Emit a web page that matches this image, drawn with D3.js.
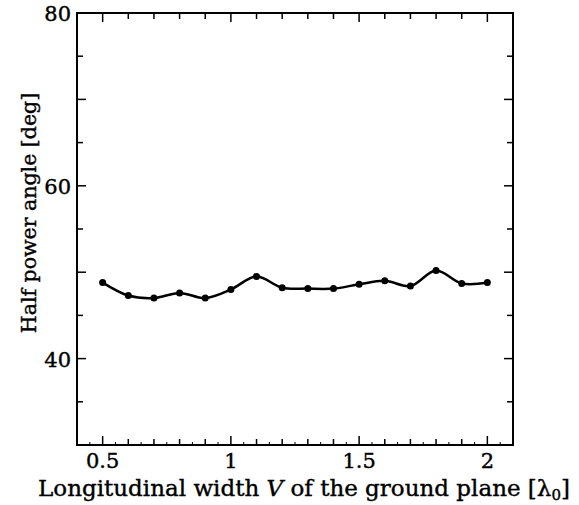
<!DOCTYPE html>
<html><head><meta charset="utf-8">
<script src="https://cdn.jsdelivr.net/npm/d3@7"></script>
<style>body{margin:0;background:#fff}svg{display:block}text{font-family:"DejaVu Serif",serif;fill:#000;stroke:#000;stroke-width:0.4}</style>
</head><body><svg id="c" width="579" height="505"></svg>
<script>
const widths = [0.5,0.6,0.7,0.8,0.9,1.0,1.1,1.2,1.3,1.4,1.5,1.6,1.7,1.8,1.9,2.0];
const angles = [48.8,47.3,47.0,47.6,47.0,48.0,49.5,48.2,48.1,48.1,48.6,49.0,48.4,50.2,48.7,48.8];
const xTickLabels = [0.5,1,1.5,2];
const yTickLabels = [40,60,80];

const svg = d3.select("#c");
const x = d3.scaleLinear().domain([0.4,2.1]).range([77,513]);
const y = d3.scaleLinear().domain([30,80]).range([445,13]);

svg.append("rect").attr("x",77).attr("y",13).attr("width",436).attr("height",432)
  .attr("fill","none").attr("stroke","#000").attr("stroke-width",2);

const g = svg.append("g");
const xMinor = d3.range(0.5,2.01,0.1);
const xMinor2 = d3.range(0.45,2.06,0.1);
const yMinor = d3.range(35,80,5);

xMinor.forEach(v=>{
  const len = xTickLabels.some(t=>Math.abs(t-v)<1e-6)?9:6;
  g.append("line").attr("x1",x(v)).attr("x2",x(v)).attr("y1",445).attr("y2",445-len).attr("stroke","#000").attr("stroke-width",1.5);
  g.append("line").attr("x1",x(v)).attr("x2",x(v)).attr("y1",13).attr("y2",13+len).attr("stroke","#000").attr("stroke-width",1.5);
});
xMinor2.forEach(v=>{
  g.append("line").attr("x1",x(v)).attr("x2",x(v)).attr("y1",445).attr("y2",442).attr("stroke","#000").attr("stroke-width",1);
});
yMinor.forEach(v=>{
  const len = (v%10===0)?9:6;
  g.append("line").attr("x1",77).attr("x2",77+len).attr("y1",y(v)).attr("y2",y(v)).attr("stroke","#000").attr("stroke-width",1.5);
  g.append("line").attr("x1",513).attr("x2",513-len).attr("y1",y(v)).attr("y2",y(v)).attr("stroke","#000").attr("stroke-width",1.5);
});

xTickLabels.forEach(v=>{
  svg.append("text").attr("x",x(v)).attr("y",468).attr("text-anchor","middle")
    .attr("font-size",21).text(v);
});
yTickLabels.forEach(v=>{
  svg.append("text").attr("x",71).attr("y",y(v)+8).attr("text-anchor","end")
    .attr("font-size",21).text(v);
});

const line = d3.line().x((d,i)=>x(widths[i])).y(d=>y(d)).curve(d3.curveCatmullRom.alpha(0.5));
svg.append("path").datum(angles).attr("d",line).attr("fill","none").attr("stroke","#000").attr("stroke-width",2.5);
svg.selectAll("circle.pt").data(angles).enter().append("circle")
  .attr("cx",(d,i)=>x(widths[i])).attr("cy",d=>y(d)).attr("r",3.5).attr("fill","#000");

const xl = svg.append("text").attr("x",304).attr("y",496).attr("text-anchor","middle")
  .attr("font-size",23);
xl.append("tspan").text("Longitudinal width ");
xl.append("tspan").attr("font-style","italic").text("V");
xl.append("tspan").text(" of the ground plane [λ");
xl.append("tspan").attr("font-size",15).attr("dy",4).text("0");
xl.append("tspan").attr("dy",-4).text("]");

svg.append("text").attr("transform","translate(36,213) rotate(-90)").attr("text-anchor","middle")
  .attr("font-size",20.5).text("Half power angle [deg]");
</script></body></html>
